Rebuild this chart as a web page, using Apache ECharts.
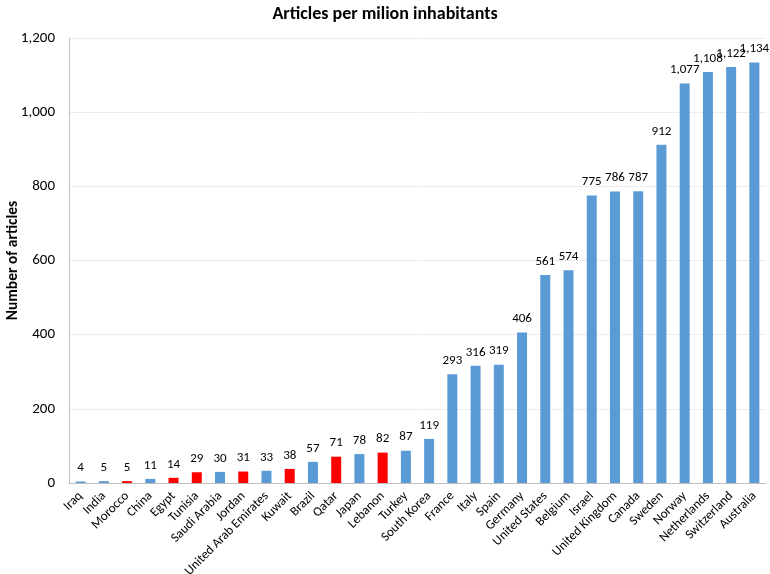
<!DOCTYPE html>
<html><head><meta charset="utf-8">
<script src="https://cdn.jsdelivr.net/npm/echarts@6/dist/echarts.min.js"></script>
<style>html,body{margin:0;padding:0;background:#fff}#c{width:770px;height:574px}</style>
</head><body><div id="c"></div>
<script>
const categories = ["Iraq","India","Morocco","China","Egypt","Tunisia","Saudi Arabia","Jordan","United Arab Emirates","Kuwait","Brazil","Qatar","Japan","Lebanon","Turkey","South Korea","France","Italy","Spain","Germany","United States","Belgium","Israel","United Kingdom","Canada","Sweden","Norway","Netherlands","Switzerland","Australia"];
const values = [4,5,5,11,14,29,30,31,33,38,57,71,78,82,87,119,293,316,319,406,561,574,775,786,787,912,1077,1108,1122,1134];
const highlighted = ["Morocco","Egypt","Tunisia","Jordan","Kuwait","Qatar","Lebanon"];
const yTicks = [0,200,400,600,800,1000,1200];

const fmt = v => v.toLocaleString('en-US');
const chart = echarts.init(document.getElementById('c'));
const font = 'Carlito, "Open Sans", "Liberation Sans", sans-serif';
chart.setOption({
  animation:false,
  title:{text:'Articles per milion inhabitants',left:'center',top:0,
    textStyle:{fontFamily:font,fontSize:18,fontWeight:'bold',color:'#000'}},
  grid:{left:69,right:4,top:38,bottom:91,outerBoundsMode:'none',containLabel:false},
  xAxis:{type:'category',data:categories,
    axisLine:{lineStyle:{color:'#bfbfbf'}},axisTick:{show:false},
    axisLabel:{rotate:45,interval:0,fontFamily:font,fontSize:13,color:'#000',margin:11}},
  yAxis:{type:'value',min:yTicks[0],max:yTicks[yTicks.length-1],interval:200,
    name:'Number of articles',nameLocation:'middle',nameGap:48,nameMoveOverlap:false,
    nameTextStyle:{fontFamily:font,fontSize:15.5,fontWeight:'bold',color:'#000'},
    axisLine:{show:true,lineStyle:{color:'#bfbfbf'}},axisTick:{show:false},
    splitLine:{lineStyle:{color:'#ececec'}},
    axisLabel:{fontFamily:font,fontSize:15,color:'#000',formatter:v=>fmt(v),margin:14}},
  series:[{type:'bar',barWidth:'43%',
    data:values.map((v,i)=>({value:v,itemStyle:{color:highlighted.includes(categories[i])?'#ff0000':'#5b9bd5'}})),
    label:{show:true,position:'top',distance:7,fontFamily:font,fontSize:13,color:'#000',formatter:p=>fmt(p.value)}}]
});
</script></body></html>
